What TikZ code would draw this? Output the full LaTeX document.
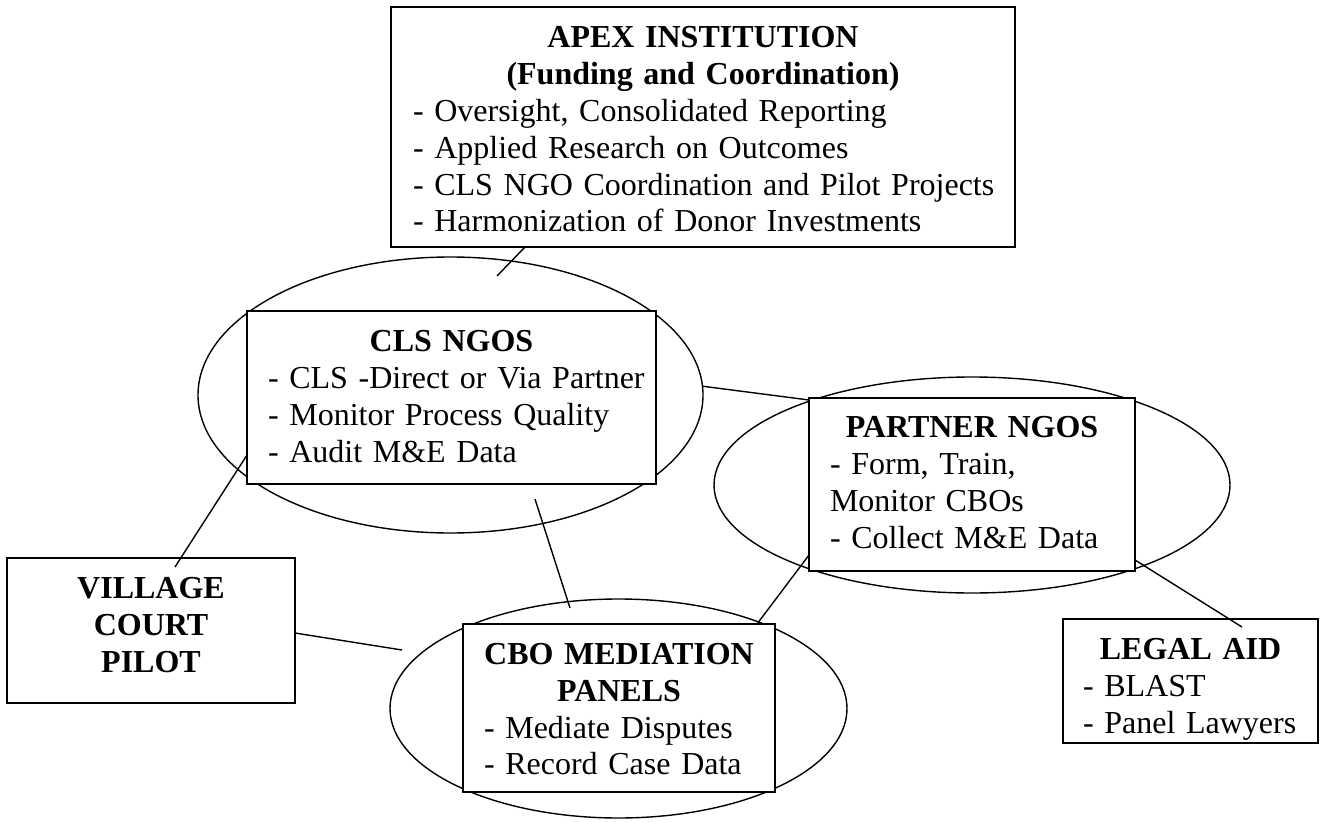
\documentclass[tikz,border=0pt]{standalone}
\usepackage{fontspec}
\setmainfont{Liberation Serif}
\usetikzlibrary{shapes.geometric,calc}
\newcommand\bl[2]{\makebox[#1][l]{\strut#2}}
\newcommand\tl[1]{\strut\textbf{#1}}
\begin{document}
\begin{tikzpicture}[x=1pt,y=-1pt,
  box/.style={draw, line width=2pt, fill=white, rectangle, inner sep=0pt, outer sep=0pt},
  oval/.style={draw, line width=1.4pt, ellipse, inner sep=0pt, outer sep=0pt},
  txt/.style={inner sep=0pt, align=center, font=\fontsize{32pt}{36.8pt}\selectfont},
  link/.style={line width=1.4pt}]
\useasboundingbox (0,0) rectangle (1321,821);

% ellipses
\node[oval, minimum width=505pt, minimum height=276pt] (clsE) at (450.5,395) {};
\node[oval, minimum width=516pt, minimum height=216pt] (partE) at (972,485) {};
\node[oval, minimum width=457pt, minimum height=219pt] (cboE) at (618.5,708.5) {};

% boxes
\node[box, minimum width=624pt, minimum height=240pt] (apex) at (703,127) {};
\node[box, minimum width=409pt, minimum height=173pt] (cls) at (451.5,397.5) {};
\node[box, minimum width=326pt, minimum height=173pt] (partner) at (972,484.5) {};
\node[box, minimum width=312pt, minimum height=168pt] (cbo) at (619,708) {};
\node[box, minimum width=288pt, minimum height=145pt] (village) at (151,630.5) {};
\node[box, minimum width=255pt, minimum height=124pt] (legal) at (1190.5,681) {};

% free ends of connectors
\coordinate (clsTop) at (497,276);
\coordinate (clsLow) at (535,499);
\coordinate (cboTop) at (570,608);
\coordinate (vilIn) at (175,567);
\coordinate (legIn) at (1242,627);
\coordinate (cboLeft) at (402,650);

% connectors
\draw[link] ($(apex.south west)+(134,0)$) -- (clsTop);
\draw[link] (clsE.2) -- ($(partner.north west)+(0,2)$);
\draw[link] ($(cls.north west)+(0,144)$) -- (vilIn);
\draw[link] (clsLow) -- (cboTop);
\draw[link] ($(partner.south west)+(0,-16)$) -- ($(cbo.north west)+(294,0)$);
\draw[link] ($(partner.south east)+(0,-11)$) -- (legIn);
\draw[link] ($(village.north east)+(0,75)$) -- (cboLeft);

% texts
\node[txt, text width=624pt] (apexT) at (703,132.6) {%
\tl{APEX INSTITUTION}\\
\tl{(Funding and Coordination)}\\
\bl{580pt}{- Oversight, Consolidated Reporting}\\
\bl{580pt}{- Applied Research on Outcomes}\\
\bl{580pt}{- CLS NGO Coordination and Pilot Projects}\\
\bl{580pt}{- Harmonization of Donor Investments}};

\node[txt, text width=409pt] (clsT) at (451.5,399.8) {%
\tl{CLS NGOS}\\
\bl{367pt}{- CLS -Direct or Via Partner}\\
\bl{367pt}{- Monitor Process Quality}\\
\bl{367pt}{- Audit M\&E Data}};

\node[txt, text width=326pt] (partnerT) at (972,485.8) {%
\tl{PARTNER NGOS}\\
\bl{284pt}{- Form, Train,}\\
\bl{284pt}{Monitor CBOs}\\
\bl{284pt}{- Collect M\&E Data}};

\node[txt, text width=312pt] (cboT) at (619,712.4) {%
\tl{CBO MEDIATION}\\
\tl{PANELS}\\
\bl{270pt}{- Mediate Disputes}\\
\bl{270pt}{- Record Case Data}};

\node[txt, text width=288pt] (villageT) at (151,628.4) {%
\tl{VILLAGE}\\
\tl{COURT}\\
\tl{PILOT}};

\node[txt, text width=255pt] (legalT) at (1190.5,689.4) {%
\tl{LEGAL AID}\\
\bl{215pt}{- BLAST}\\
\bl{215pt}{- Panel Lawyers}};
\end{tikzpicture}
\end{document}
